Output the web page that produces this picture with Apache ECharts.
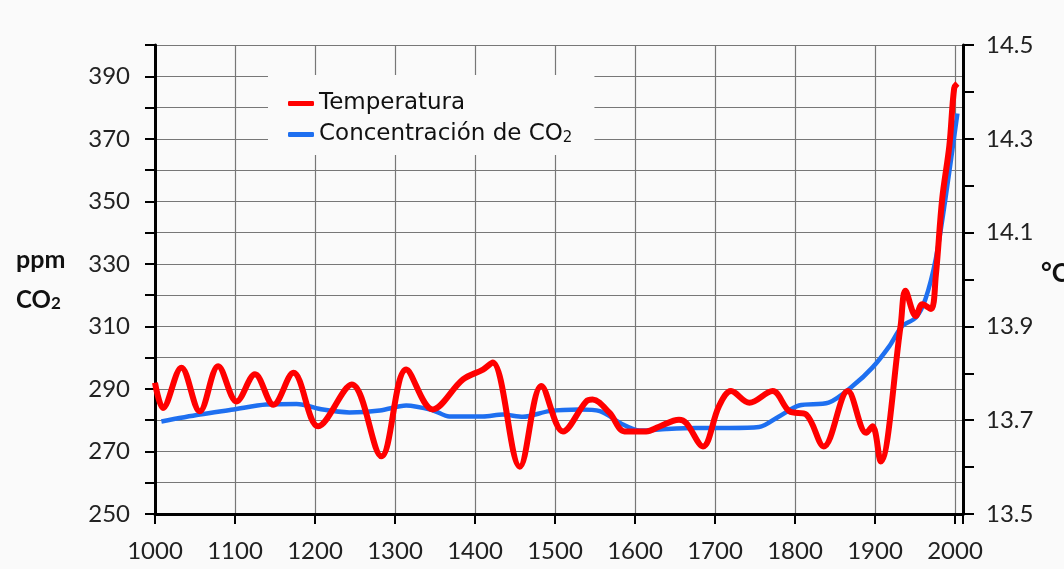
<!DOCTYPE html>
<html>
<head>
<meta charset="utf-8">
<script src="https://cdn.jsdelivr.net/npm/echarts@6/dist/echarts.min.js"></script>
<style>html,body{margin:0;padding:0;background:#fafafa;}#c{width:1064px;height:569px;}</style>
</head>
<body>
<div id="c"></div>
<script>
// Temperature (°C, right axis)
const tempYears = [1000,1010,1033,1056,1079,1102,1125,1148,1173,1204,1246,1283,1314,1347,1385,1410,1422,1456,1483,1510,1539,1547,1568,1587,1614,1630,1655,1664,1685,1705,1720,1743,1772,1793,1814,1836,1866,1889,1897,1907,1932,1938,1951,1959,1970,1976,1984,1993,1999,2003];
const tempValues = [13.78,13.726,13.812,13.719,13.815,13.74,13.798,13.733,13.801,13.687,13.776,13.623,13.808,13.723,13.787,13.808,13.823,13.601,13.773,13.676,13.74,13.744,13.716,13.676,13.676,13.686,13.701,13.694,13.644,13.73,13.762,13.737,13.762,13.719,13.712,13.644,13.762,13.673,13.687,13.612,13.901,13.976,13.922,13.947,13.937,14.008,14.172,14.286,14.408,14.418];
// CO2 concentration (ppm, left axis)
const co2Years = [1008,1056,1098,1139,1177,1210,1243,1281,1314,1347,1368,1410,1435,1460,1493,1531,1556,1585,1606,1639,1676,1718,1755,1780,1805,1842,1872,1897,1918,1934,1951,1963,1976,1988,2003];
const co2Values = [279.6,281.8,283.4,285.0,285.2,283.4,282.5,283.1,284.7,283.2,281.2,281.2,281.8,281.1,282.9,283.4,282.9,278.6,276.7,277.2,277.5,277.5,277.8,281.2,284.7,285.6,290.9,296.9,303.7,310.1,312.8,318.7,331.6,350.8,378.1];
// Axis ranges / labels
const xRange = [1000, 2010, 100];
const leftRange = [250, 400, 10];
const rightRange = [13.5, 14.5, 0.1];
const seriesNames = ['Temperatura', 'Concentración de CO2'];

const chart = echarts.init(document.getElementById('c'));
const axisFont = {fontFamily: 'Lato', fontSize: 24, color: '#222'};
const axisLineStyle = {color: '#000', width: 3};
const tickStyle = {color: '#000', width: 2};
const gridLine = {show: true, lineStyle: {color: '#777', width: 1.2}};
chart.setOption({
  backgroundColor: '#fafafa',
  animation: false,
  grid: {left: 155, right: 101, top: 45, bottom: 55},
  legend: {
    data: seriesNames, orient: 'vertical', left: 268, top: 75, itemGap: 8,
    padding: [17, 22, 9, 20], backgroundColor: '#fafafa',
    itemWidth: 26, itemHeight: 5, icon: 'roundRect',
    formatter: n => n === seriesNames[1] ? 'Concentración de CO{s|2}' : n,
    textStyle: {
      fontFamily: 'DejaVu Sans', fontSize: 23, color: '#111',
      rich: {s: {fontFamily: 'DejaVu Sans', fontSize: 15, color: '#111', lineHeight: 8, verticalAlign: 'bottom'}}
    }
  },
  xAxis: {
    type: 'value', min: xRange[0], max: xRange[1], interval: xRange[2],
    axisLine: {lineStyle: axisLineStyle},
    axisTick: {length: 10, lineStyle: tickStyle},
    axisLabel: Object.assign({margin: 25, formatter: v => (v % 100 === 0 ? String(v) : '')}, axisFont),
    splitLine: gridLine
  },
  yAxis: [{
    type: 'value', min: leftRange[0], max: leftRange[1], interval: leftRange[2], position: 'left',
    axisLine: {show: true, lineStyle: axisLineStyle},
    axisTick: {show: true, length: 10, lineStyle: tickStyle},
    axisLabel: Object.assign({margin: 25, formatter: v => ((v - 250) % 20 === 0 ? String(v) : '')}, axisFont),
    splitLine: gridLine
  }, {
    type: 'value', min: rightRange[0], max: rightRange[1], interval: rightRange[2], position: 'right',
    axisLine: {show: true, lineStyle: axisLineStyle},
    axisTick: {show: true, length: 11, lineStyle: tickStyle},
    axisLabel: Object.assign({margin: 23, formatter: v => (Math.round(v * 10) % 2 === 1 ? v.toFixed(1) : '')}, axisFont),
    splitLine: {show: false}
  }],
  series: [{
    name: seriesNames[1], type: 'line', yAxisIndex: 0, smooth: 0.3, symbol: 'none',
    itemStyle: {color: '#1e6ff0'},
    lineStyle: {color: '#1e6ff0', width: 4.5},
    data: co2Years.map((y, i) => [y, co2Values[i]])
  }, {
    name: seriesNames[0], type: 'line', yAxisIndex: 1, smooth: 0.35, symbol: 'none',
    itemStyle: {color: '#ff0000'},
    lineStyle: {color: '#ff0000', width: 6},
    data: tempYears.map((y, i) => [y, tempValues[i]])
  }],
  graphic: [
    {type: 'text', left: 16, top: 247, style: {text: 'ppm', font: 'bold 25px Lato', fill: '#111'}},
    {type: 'text', left: 16, top: 288, style: {
      text: 'CO{s|2}', font: 'bold 24px Lato', fill: '#111',
      rich: {s: {font: 'bold 17px Lato', fill: '#111', lineHeight: 8, verticalAlign: 'bottom'}}
    }},
    {type: 'text', left: 1041, top: 261, style: {text: '°C', font: 'bold 26px Lato', fill: '#111'}}
  ]
});
</script>
</body>
</html>
